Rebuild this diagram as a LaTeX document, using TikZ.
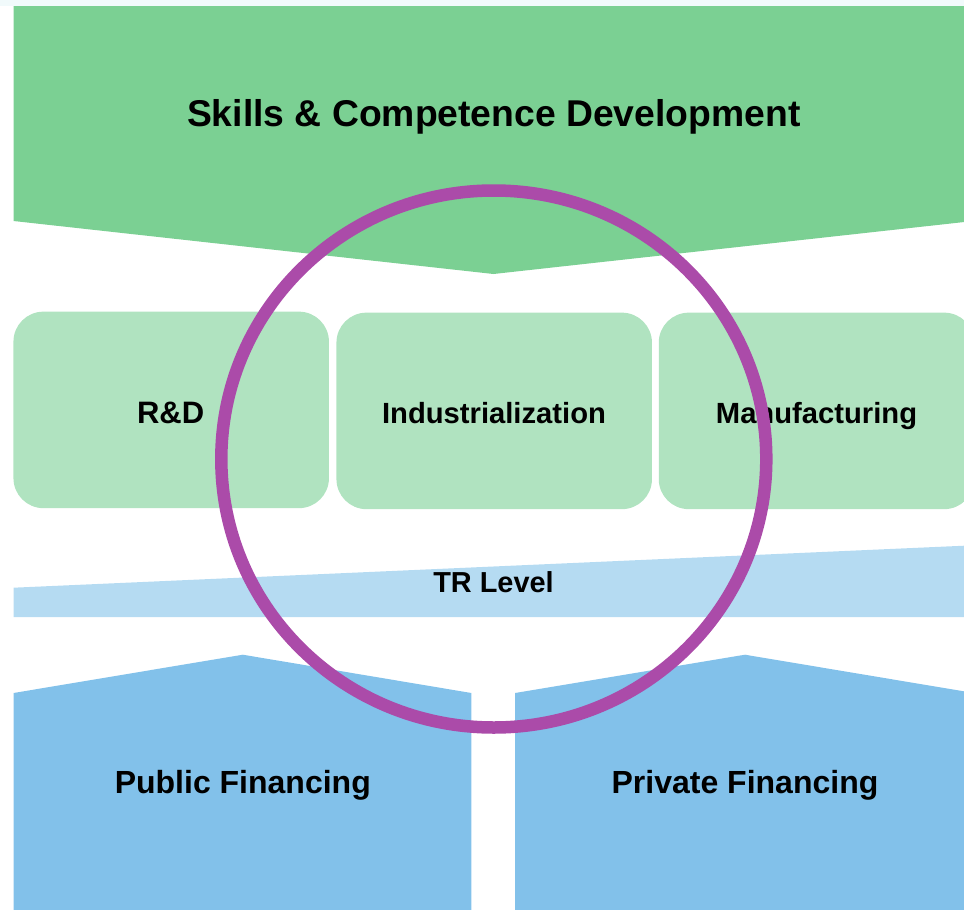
\documentclass[tikz,border=0pt]{standalone}
\usepackage{fontspec}
\setmainfont{Liberation Sans}
\begin{document}
\begin{tikzpicture}[x=1pt,y=-1pt,
  lbl/.style={inner sep=0pt,anchor=base,font=\bfseries},
  stagebox/.style={fill=stagegreen,rounded corners=30pt,minimum width=315.5pt,minimum height=196.5pt,inner sep=0pt},
  ring/.style={draw=ringpurple,line width=12.5pt}]
\definecolor{skillgreen}{HTML}{7BD093}
\definecolor{stagegreen}{HTML}{B0E3C0}
\definecolor{trblue}{HTML}{B5DBF2}
\definecolor{finblue}{HTML}{82C1EA}
\definecolor{ringpurple}{HTML}{AB4BA9}
\definecolor{edgetint}{HTML}{F1FAFB}
\useasboundingbox (0,0) rectangle (964,910);
\clip (0,0) rectangle (964,910);
\fill[edgetint] (0,0) rectangle (964,6);

% skills banner pointing down
\fill[skillgreen] (13.5,6) -- (973.5,6) -- (973.5,221) -- (493.5,274) -- (13.5,221) -- cycle;
\node[lbl,font=\bfseries\fontsize{37.3}{44}\selectfont] (skills) at (493.8,126.7) {Skills \& Competence Development};

% development stages
\node[stagebox] (rdbox)  at (171.2,409.9) {};
\node[stagebox] (indbox) at (494.2,410.9) {};
\node[stagebox] (mfgbox) at (816.5,410.9) {};
\node[lbl,font=\bfseries\fontsize{31}{35}\selectfont] (rd)  at (170.6,423.3) {R\&D};
\node[lbl,font=\bfseries\fontsize{29.2}{35}\selectfont] (ind) at (494,423.3) {Industrialization};
\node[lbl,font=\bfseries\fontsize{29.2}{35}\selectfont] (mfg) at (816.5,423.3) {Manufacturing};

% rising TR level band
\fill[trblue] (13.5,587.7) -- (973.5,545.3) -- (973.5,617) -- (13.5,617) -- cycle;
\node[lbl,font=\bfseries\fontsize{28.9}{34}\selectfont] (tr) at (493.5,592.7) {TR Level};

% financing blocks pointing up
\fill[finblue] (13.5,693) -- (242.8,654.7) -- (471.4,693) -- (471.4,915) -- (13.5,915) -- cycle;
\fill[finblue] (515,693) -- (745,654.7) -- (974,693) -- (974,915) -- (515,915) -- cycle;
\node[lbl,font=\bfseries\fontsize{32}{37}\selectfont] (pub)  at (242.8,793) {Public Financing};
\node[lbl,font=\bfseries\fontsize{32}{37}\selectfont] (priv) at (745,793) {Private Financing};

% focus ring
\draw[ring] (493.8,459) ellipse [x radius=272.5, y radius=268.5];
\end{tikzpicture}
\end{document}
